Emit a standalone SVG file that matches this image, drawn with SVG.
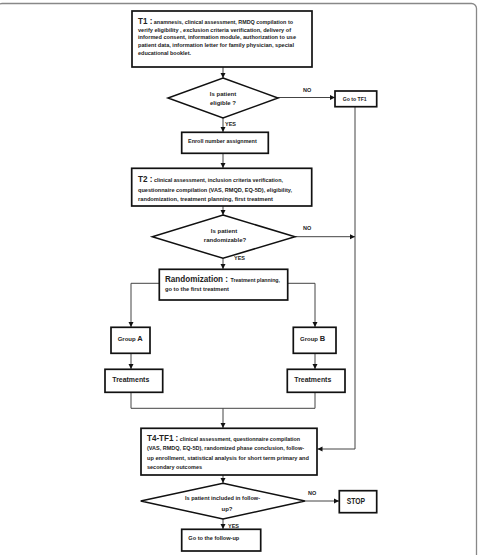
<svg xmlns="http://www.w3.org/2000/svg" width="478" height="555" viewBox="0 0 478 555">
<style>
.box{fill:#fff;stroke:#111;stroke-width:1.7}
.dia{fill:#fff;stroke:#111;stroke-width:1.5}
.c{fill:none;stroke:#444;stroke-width:1}
text{font-family:"Liberation Sans",Arial,sans-serif;font-weight:bold;fill:#222;font-size:6px}
.big{font-size:9px}
.mid{font-size:7.5px}
.lbl{font-size:5.5px}
</style>
<defs>
<marker id="ah" markerUnits="userSpaceOnUse" markerWidth="6" markerHeight="6" refX="5" refY="3" orient="auto">
<path d="M0,0.5 L5,3 L0,5.5 Z" fill="#111"/>
</marker>
</defs>
<rect x="-3" y="3.5" width="479.5" height="560" rx="5" fill="#fff" stroke="#888" stroke-width="1.3"/>

<g id="connectors">
<path class="c" d="M223,67 V78" marker-end="url(#ah)"/>
<path class="c" d="M223,118 V132" marker-end="url(#ah)"/>
<path class="c" d="M278,97.5 H335" marker-end="url(#ah)"/>
<path class="c" d="M355,107 V449 H317.5" marker-end="url(#ah)"/>
<path class="c" d="M223,153.3 V168" marker-end="url(#ah)"/>
<path class="c" d="M223,206 V215" marker-end="url(#ah)"/>
<path class="c" d="M295,236.7 H355" marker-end="url(#ah)"/>
<path class="c" d="M223,258.3 V269" marker-end="url(#ah)"/>
<path class="c" d="M159.3,283.3 H131 V327" marker-end="url(#ah)"/>
<path class="c" d="M287.7,283.3 H315 V327" marker-end="url(#ah)"/>
<path class="c" d="M131,353.3 V369" marker-end="url(#ah)"/>
<path class="c" d="M315,353.3 V369" marker-end="url(#ah)"/>
<path class="c" d="M131,392.3 V408.3 H315 V392.3"/>
<path class="c" d="M223,408.3 V428" marker-end="url(#ah)"/>
<path class="c" d="M223,475 V483" marker-end="url(#ah)"/>
<path class="c" d="M305,501 H339" marker-end="url(#ah)"/>
<path class="c" d="M223,519 V529" marker-end="url(#ah)"/>
<text class="lbl" x="303" y="92">NO</text>
<text class="lbl" x="225" y="125.5">YES</text>
<text class="lbl" x="303" y="230">NO</text>
<text class="lbl" x="234" y="260">YES</text>
<text class="lbl" x="308" y="495">NO</text>
<text class="lbl" x="228" y="528">YES</text>
</g>

<g id="t1">
<rect class="box" x="132" y="11" width="180" height="56"/>
<text x="138" y="24" textLength="155" lengthAdjust="spacingAndGlyphs"><tspan class="big">T1 :</tspan> anamnesis, clinical assessment, RMDQ compilation to</text>
<text x="138" y="31.5" textLength="153" lengthAdjust="spacingAndGlyphs">verify eligibility , exclusion criteria verification, delivery  of</text>
<text x="138" y="39" textLength="158" lengthAdjust="spacingAndGlyphs">informed consent, information module, authorization to use</text>
<text x="138" y="47" textLength="156" lengthAdjust="spacingAndGlyphs">patient data, information letter for family physician, special</text>
<text x="138" y="55" textLength="53" lengthAdjust="spacingAndGlyphs">educational booklet.</text>
</g>

<g id="d1">
<polygon class="dia" points="223,78 278,98 223,118 168,98"/>
<text x="223" y="96" text-anchor="middle">Is patient</text>
<text x="223" y="105" text-anchor="middle">eligible ?</text>
</g>

<g id="gotf1">
<rect class="box" x="335" y="91" width="41.7" height="15.7"/>
<text x="342.7" y="100.5" textLength="24" lengthAdjust="spacingAndGlyphs">Go to TF1</text>
</g>

<g id="enroll">
<rect class="box" x="181.7" y="132.3" width="86.6" height="21"/>
<text x="188" y="143" textLength="68.7" lengthAdjust="spacingAndGlyphs">Enroll number assignment</text>
</g>

<g id="t2">
<rect class="box" x="131.7" y="168.3" width="180" height="37.7"/>
<text x="138" y="181.5" textLength="145" lengthAdjust="spacingAndGlyphs"><tspan class="big">T2 :</tspan> clinical assessment, inclusion criteria verification,</text>
<text x="138" y="191.5" textLength="154" lengthAdjust="spacingAndGlyphs">questionnaire compilation (VAS, RMQD, EQ-5D), eligibility,</text>
<text x="138" y="200.5" textLength="135" lengthAdjust="spacingAndGlyphs">randomization, treatment planning, first treatment</text>
</g>

<g id="d2">
<polygon class="dia" points="223,215 295,236.7 223,258.3 152.3,236.7"/>
<text x="224" y="233" text-anchor="middle">Is  patient</text>
<text x="225" y="242" text-anchor="middle">randomizable?</text>
</g>

<g id="randomization">
<rect class="box" x="159.3" y="269.3" width="128.4" height="30.7"/>
<text class="big" x="165" y="281.5" textLength="63" lengthAdjust="spacingAndGlyphs">Randomization :</text>
<text x="230.5" y="281.5" textLength="49.5" lengthAdjust="spacingAndGlyphs">Treatment planning,</text>
<text x="165" y="291" textLength="64" lengthAdjust="spacingAndGlyphs">go to the first treatment</text>
</g>

<g id="groupA">
<rect class="box" x="111" y="327.3" width="39" height="26"/>
<text x="117.7" y="340.5">Group <tspan class="mid">A</tspan></text>
</g>

<g id="groupB">
<rect class="box" x="293.3" y="327.3" width="42.7" height="26"/>
<text x="300" y="340.5">Group <tspan class="mid">B</tspan></text>
</g>

<g id="treatA">
<rect class="box" x="105" y="369.3" width="57.7" height="23"/>
<text class="mid" x="112.3" y="381.5" textLength="37" lengthAdjust="spacingAndGlyphs">Treatments</text>
</g>

<g id="treatB">
<rect class="box" x="287.3" y="369.3" width="57.7" height="23"/>
<text class="mid" x="294.3" y="381.5" textLength="37" lengthAdjust="spacingAndGlyphs">Treatments</text>
</g>

<g id="t4">
<rect class="box" x="141" y="428.3" width="176" height="46.7"/>
<text x="147" y="441" textLength="153" lengthAdjust="spacingAndGlyphs"><tspan class="big">T4-TF1 :</tspan> clinical assessment, questionnaire compilation</text>
<text x="147" y="450" textLength="157" lengthAdjust="spacingAndGlyphs">(VAS, RMDQ, EQ-5D), randomized phase conclusion, follow-</text>
<text x="147" y="459.5" textLength="162" lengthAdjust="spacingAndGlyphs">up enrollment, statistical analysis for short  term primary  and</text>
<text x="147" y="468.5" textLength="55" lengthAdjust="spacingAndGlyphs">secondary outcomes</text>
</g>

<g id="d3">
<polygon class="dia" points="223,483.3 305,501 223,519 140.7,501"/>
<text x="185" y="499.5" textLength="75" lengthAdjust="spacingAndGlyphs">Is patient included in follow-</text>
<text x="227" y="510.5" text-anchor="middle">up?</text>
</g>

<g id="stop">
<rect class="box" x="339.3" y="490.7" width="37.4" height="22"/>
<text class="big" x="346.7" y="503.5" textLength="18.3" lengthAdjust="spacingAndGlyphs">STOP</text>
</g>

<g id="followup">
<rect class="box" x="181.7" y="529.3" width="79" height="21.7"/>
<text x="188.3" y="540" textLength="51" lengthAdjust="spacingAndGlyphs">Go to the follow-up</text>
</g>
</svg>
